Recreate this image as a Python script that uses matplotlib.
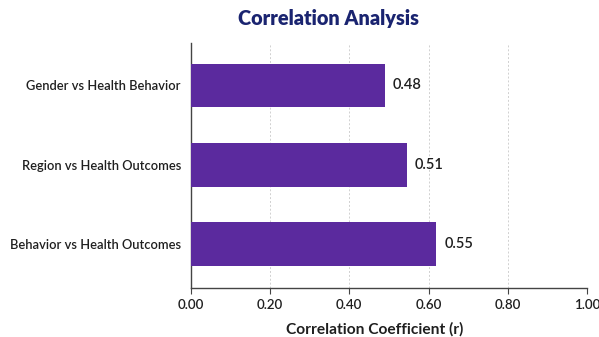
import matplotlib
matplotlib.use("Agg")
import matplotlib.pyplot as plt

categories = ["Gender vs Health Behavior", "Region vs Health Outcomes", "Behavior vs Health Outcomes"]
bar_values = [0.49, 0.545, 0.62]
value_labels = ["0.48", "0.51", "0.55"]
x_ticks = [0.0, 0.2, 0.4, 0.6, 0.8, 1.0]
x_tick_labels = ["0.00", "0.20", "0.40", "0.60", "0.80", "1.00"]

plt.rcParams['font.family'] = ['Lato', 'DejaVu Sans']

fig = plt.figure(figsize=(5.99, 3.37), dpi=100)
ax = fig.add_axes([0.3184, 0.1454, 0.98 - 0.3184, 0.8724 - 0.1454])

y = list(range(len(categories)))
ax.barh(y, bar_values, height=0.553, color="#5B2A9E", zorder=3)
for yi, v, lab in zip(y, bar_values, value_labels):
    ax.text(v + 0.02, yi, lab, va="center", ha="left", fontsize=10.5,
            color="#1f1f1f", fontweight="semibold")

ax.set_xlim(0, 1.0)
ax.set_ylim(2.553, -0.535)
ax.set_yticks(y)
ax.set_yticklabels(categories, fontsize=9.3, color="#1f1f1f", fontweight="semibold")
ax.set_xticks(x_ticks)
ax.set_xticklabels(x_tick_labels, fontsize=9.6, color="#1f1f1f", fontweight="semibold")
ax.tick_params(axis="y", length=0, pad=7)
ax.tick_params(axis="x", length=4, width=0.8, color="#444444", pad=4)

ax.grid(axis="x", linestyle=(0, (2, 2)), color="#d0d0d0", linewidth=0.7, zorder=0)
for s in ["top", "right"]:
    ax.spines[s].set_visible(False)
for s in ["left", "bottom"]:
    ax.spines[s].set_color("#444444")
    ax.spines[s].set_linewidth(1.0)

fig.text(374.5 / 599, 1 - 329 / 337, "Correlation Coefficient (r)", ha="center", va="center",
         fontsize=11.2, fontweight="bold", color="#1f1f1f")
fig.text(329 / 599, 1 - 19 / 337, "Correlation Analysis", ha="center", va="center",
         fontsize=14.3, fontweight="heavy", color="#1A2470")

fig.savefig("out.png", dpi=100)
